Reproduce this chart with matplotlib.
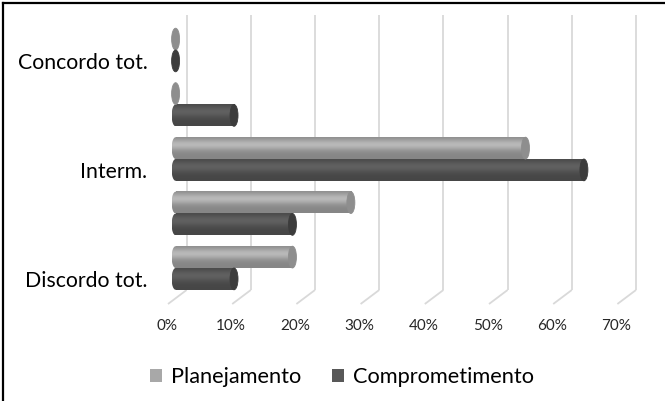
import numpy as np
import matplotlib
matplotlib.use("Agg")
import matplotlib.pyplot as plt
from matplotlib.patches import Ellipse, Patch
from matplotlib.lines import Line2D
from matplotlib.colors import to_rgb
from matplotlib.transforms import ScaledTranslation

# ---- data -------------------------------------------------------------
categories = ["Discordo tot.", "", "Interm.", "", "Concordo tot."]
planejamento = [18.2, 27.3, 54.5, 0.0, 0.0]
comprometimento = [9.1, 18.2, 63.6, 9.1, 0.0]
series_names = ["Planejamento", "Comprometimento"]
x_ticks = [0, 10, 20, 30, 40, 50, 60, 70]
x_tick_labels = ["0%", "10%", "20%", "30%", "40%", "50%", "60%", "70%"]

# ---- style ------------------------------------------------------------
plt.rcParams["font.family"] = ["Lato", "DejaVu Sans"]
light, dark = "#a8a8a8", "#585858"
light_cap, dark_cap = "#8e8e8e", "#3c3c3c"
grid_color = "#d9d9d9"

W, H, DPI = 665, 401, 100
fig = plt.figure(figsize=(W / DPI, H / DPI), dpi=DPI)
fig.patch.set_facecolor("white")

# plot box in pixels, and the linear mapping used by the axes
L, R, T, B = 160, 645, 15, 305
px_per_pct, x0_px = 6.42, 175.6
row_px, y0_px = 54.5, 268.0
ax = fig.add_axes([L / W, 1 - B / H, (R - L) / W, (B - T) / H])
xlim = ((L - x0_px) / px_per_pct, (R - x0_px) / px_per_pct)
ylim = ((y0_px - B) / row_px, (y0_px - T) / row_px)

# pseudo-3D depth of the back wall and floor (in data units)
back_dx = 11.0 / px_per_pct
front_dx = -7.6 / px_per_pct
floor_back_y = (y0_px - 290) / row_px
floor_front_y = (y0_px - 304) / row_px

# back-wall and floor gridlines
for v in x_ticks:
    ax.plot([v + back_dx, v + back_dx], [floor_back_y, ylim[1]],
            color=grid_color, lw=1.3, zorder=0, solid_capstyle="butt")
    ax.plot([v + front_dx, v + back_dx], [floor_front_y, floor_back_y],
            color=grid_color, lw=1.3, zorder=0, solid_capstyle="butt")


def cylinder_shade(base, n=64):
    t = np.linspace(0, 1, n)
    prof = 0.80 + 0.30 * np.exp(-((t - 0.66) / 0.26) ** 2)
    rgb = np.clip(np.array(to_rgb(base))[None, :] * prof[:, None], 0, 1)
    return rgb[:, None, :]


bar_h = 0.4
cap_w = 8.0 / px_per_pct


def cylinder(value, yc, base, cap_color, z):
    img = cylinder_shade(base)
    y_lo, y_hi = yc - bar_h / 2, yc + bar_h / 2
    if value > 0:
        ax.imshow(img, extent=(0, value, y_lo, y_hi), origin="lower",
                  aspect="auto", interpolation="bilinear", zorder=z)
        left = Ellipse((0, yc), cap_w, bar_h, transform=ax.transData)
        im = ax.imshow(img, extent=(-cap_w / 2, 0, y_lo, y_hi), origin="lower",
                       aspect="auto", interpolation="bilinear", zorder=z)
        im.set_clip_path(left)
    ax.add_patch(Ellipse((value, yc), cap_w, bar_h, facecolor=cap_color,
                         edgecolor=cap_color, lw=0.6, zorder=z + 0.1))


y = np.arange(len(categories))
for i in y:
    cylinder(planejamento[i], i + bar_h / 2, light, light_cap, 3)
    cylinder(comprometimento[i], i - bar_h / 2, dark, dark_cap, 3)

ax.set_xlim(*xlim)
ax.set_ylim(*ylim)
for s in ax.spines.values():
    s.set_visible(False)

ax.set_xticks(x_ticks)
ax.set_xticklabels(x_tick_labels, fontsize=11, color="#262626")
ax.tick_params(axis="x", length=0, pad=10)
for lab in ax.get_xticklabels():
    lab.set_transform(lab.get_transform() +
                      ScaledTranslation(-8.6 / DPI, 0, fig.dpi_scale_trans))

ax.set_yticks(y)
ax.set_yticklabels(categories, fontsize=15.3, color="black")
ax.tick_params(axis="y", length=0, pad=9)
for lab in ax.get_yticklabels():
    lab.set_transform(lab.get_transform() +
                      ScaledTranslation(0, -11 / DPI, fig.dpi_scale_trans))

# legend
handles = [Patch(facecolor=light, edgecolor="none"),
           Patch(facecolor=dark, edgecolor="none")]
fig.legend(handles, series_names, loc="center",
           bbox_to_anchor=(342 / W, 1 - 377 / H), ncol=2, frameon=False,
           fontsize=15.7, handlelength=0.55, handleheight=0.55,
           handletextpad=0.4, columnspacing=1.45, borderaxespad=0)

# frame edges
fig.add_artist(Line2D([3 / W, 1], [1 - 3 / H, 1 - 3 / H], transform=fig.transFigure,
                      color="black", lw=1.6))
fig.add_artist(Line2D([3 / W, 3 / W], [0, 1 - 3 / H], transform=fig.transFigure,
                      color="black", lw=1.6))

fig.savefig("out.png", dpi=DPI, facecolor="white")
